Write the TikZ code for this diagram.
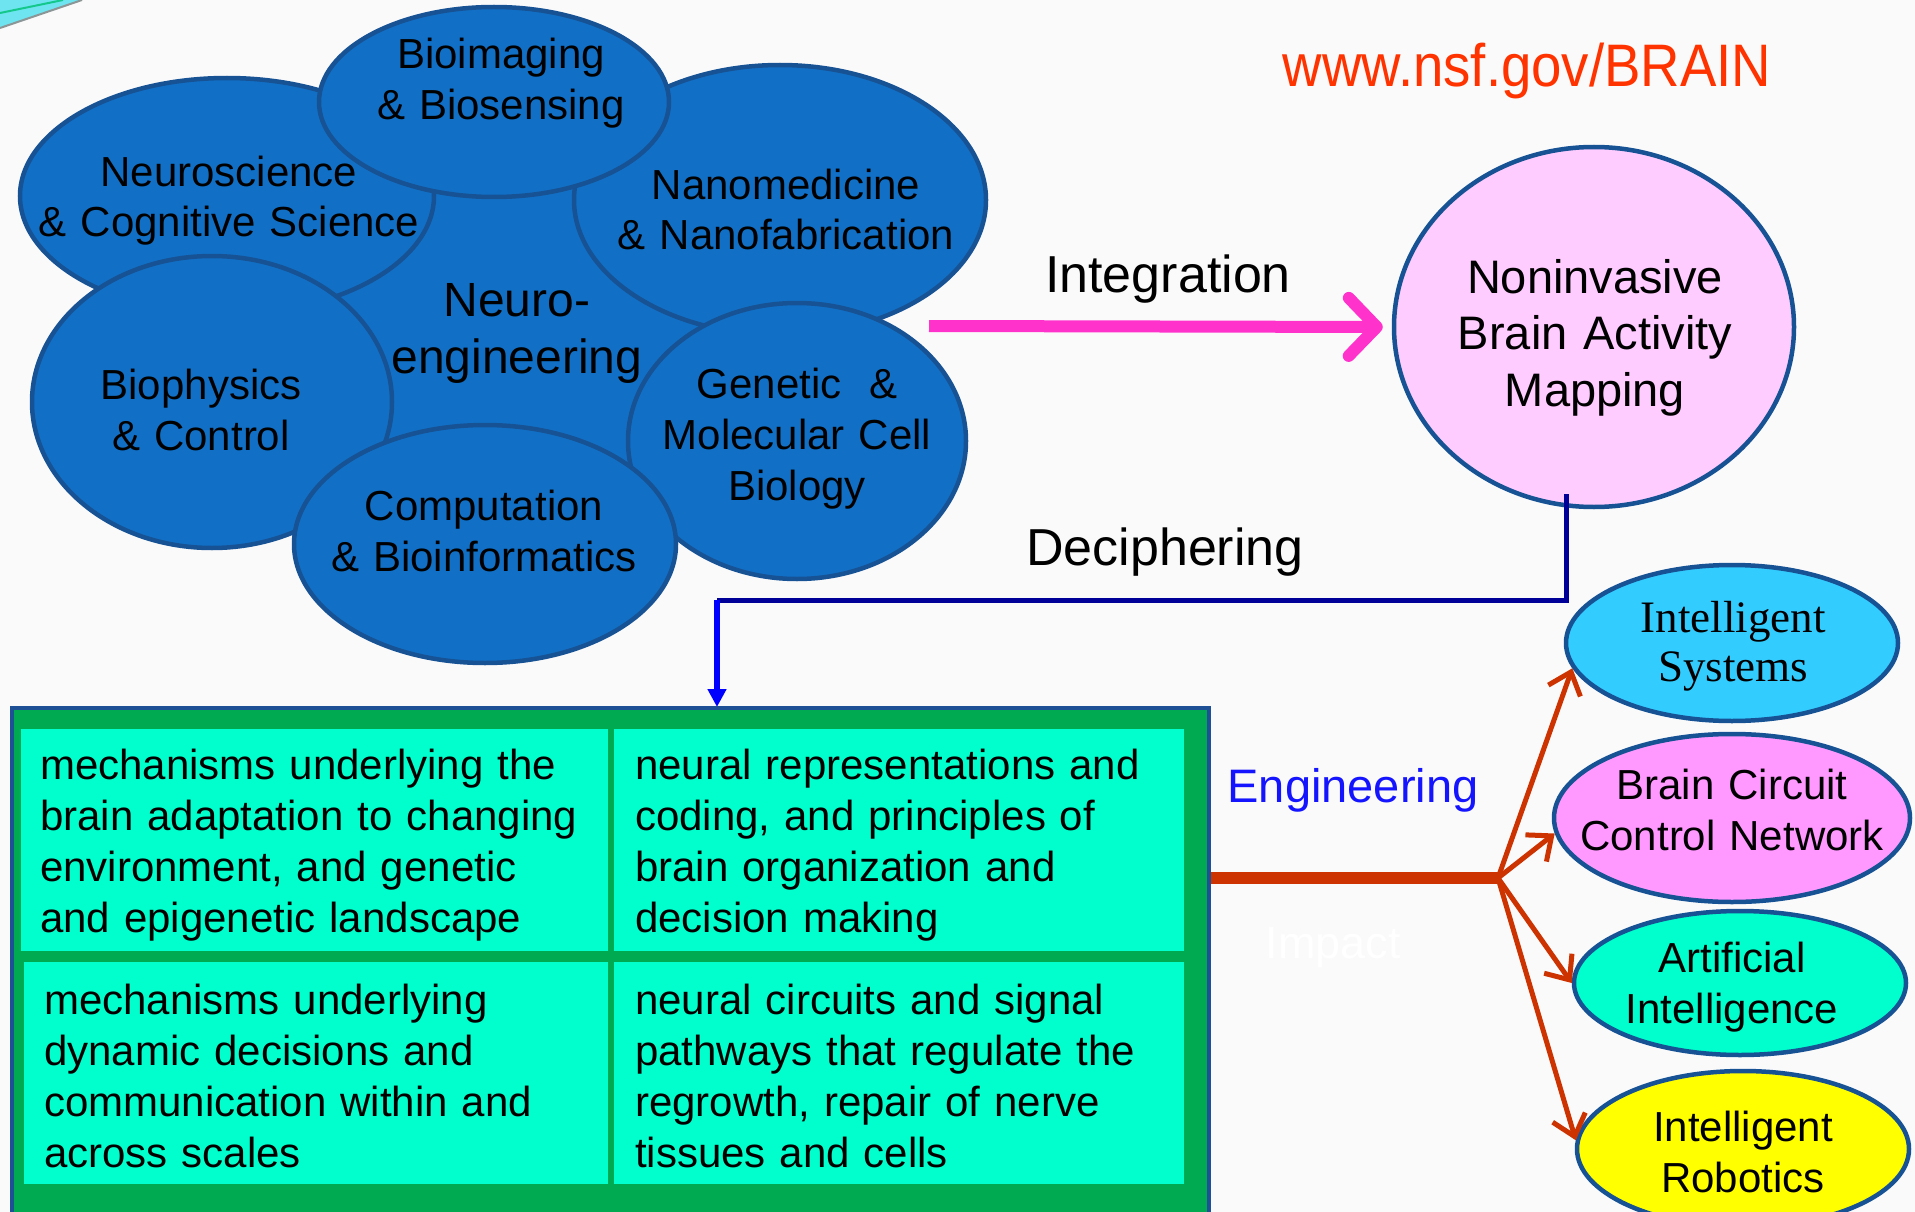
\documentclass[tikz,border=0pt]{standalone}
\usepackage{fontspec}
\setmainfont{Liberation Sans}
\newfontfamily\serifx{Liberation Serif}
\usetikzlibrary{shapes.geometric,arrows.meta}
\definecolor{bgc}{RGB}{250,250,250}
\definecolor{bubfill}{RGB}{17,112,198}
\definecolor{edgeblue}{RGB}{22,82,148}
\definecolor{lpink}{RGB}{255,204,255}
\definecolor{skyc}{RGB}{51,204,255}
\definecolor{pinkc}{RGB}{255,153,255}
\definecolor{aquac}{RGB}{0,255,204}
\definecolor{yellc}{RGB}{255,255,0}
\definecolor{gfill}{RGB}{0,170,80}
\definecolor{boxedge}{RGB}{30,80,150}
\definecolor{cellfill}{RGB}{0,255,204}
\definecolor{magc}{RGB}{255,51,204}
\definecolor{navyc}{RGB}{0,0,153}
\definecolor{bluec}{RGB}{0,0,255}
\definecolor{redc}{RGB}{204,51,0}
\definecolor{webc}{RGB}{255,51,0}
\definecolor{engc}{RGB}{20,20,255}
\definecolor{decocyan}{RGB}{110,228,240}
\definecolor{decogreen}{RGB}{20,200,140}
\definecolor{decogray}{RGB}{140,150,150}
\begin{document}
\begin{tikzpicture}[x=1pt,y=-1pt,
  bub/.style={ellipse, draw=edgeblue, line width=4.5pt, fill=bubfill, inner sep=0pt},
  oval/.style={ellipse, draw=edgeblue, line width=4.5pt, inner sep=0pt},
  btxt/.style={anchor=base, align=center, text width=460pt, inner sep=0pt, font=\fontsize{42}{51}\selectfont},
  ctxt/.style={anchor=base west, align=left, text width=580pt, inner sep=0pt, font=\fontsize{42}{51}\selectfont},
  cell/.style={rectangle, fill=cellfill, anchor=north west, inner sep=0pt},
  lbl/.style={anchor=base, inner sep=0pt},
  redarrow/.style={draw=redc, line width=5pt, -{Straight Barb[length=20pt,width=34pt]}},
]
\useasboundingbox (0,0) rectangle (1915,1212);
\clip (0,0) rectangle (1915,1212);
\fill[bgc] (0,0) rectangle (1915,1212);
% corner decoration
\fill[decocyan] (0,0) -- (82,0) -- (0,28) -- cycle;
\draw[decogreen, line width=2pt] (0,13) -- (63,0);
\draw[decogray, line width=2pt] (0,28) -- (82,0);

% bubble cluster
\node[ellipse, fill=bubfill, inner sep=0pt, minimum width=400pt, minimum height=320pt] (core) at (515,330) {};
\node[bub, minimum width=414pt, minimum height=236pt] (neusci) at (227,196) {};
\node[bub, minimum width=412pt, minimum height=270pt] (nano) at (780,200) {};
\node[bub, minimum width=350pt, minimum height=190pt] (bioim) at (494,102) {};
\node[bub, minimum width=360pt, minimum height=292pt] (biophys) at (212,402) {};
\node[bub, minimum width=338pt, minimum height=276pt] (genet) at (797,441) {};
\node[bub, minimum width=382pt, minimum height=238pt] (comput) at (485,544) {};

\node[btxt] (tneusci) at (229,186) {Neuroscience\\\& Cognitive Science};
\node[btxt] (tbioim) at (501,69) {Bioimaging\\\& Biosensing};
\node[btxt] (tnano) at (786,199) {Nanomedicine\\\& Nanofabrication};
\node[btxt, font=\fontsize{48}{57}\selectfont] (tcore) at (517,316) {Neuro-\\engineering};
\node[btxt] (tbiophys) at (201,399) {Biophysics\\\& Control};
\node[btxt] (tgenet) at (797,398) {Genetic\ \ \&\\Molecular Cell\\Biology};
\node[btxt] (tcomput) at (484,520) {Computation\\\& Bioinformatics};

% web address
\node[lbl, text=webc, font=\fontsize{60}{72}\selectfont] (web) at (1527,87) {\scalebox{0.91}[1]{www.nsf.gov/BRAIN}};

% noninvasive
\node[oval, fill=lpink, minimum width=400pt, minimum height=360pt] (nbam) at (1594,327) {};
\node[btxt, font=\fontsize{47}{56.5}\selectfont] (tnbam) at (1595,293) {Noninvasive\\Brain Activity\\Mapping};

% integration arrow
\coordinate (intS) at (929,326);
\draw[draw=magc, line width=12pt, shorten >=9pt, -{Straight Barb[length=28pt,width=58pt,round]}] (intS) -- (nbam.west);
\node[lbl, font=\fontsize{52}{62}\selectfont] (tint) at (1168,292) {Integration};

% deciphering connector
\coordinate (d0) at (1566,494);
\coordinate (d1) at (1566,600);
\coordinate (d2) at (717,600);
\draw[navyc, line width=5pt] (d0) -- (d1) -- (d2);
\draw[bluec, line width=5.5pt, -{Triangle[length=18pt,width=18pt]}] (d2) -- (d2 |- 0,707);
\node[lbl, font=\fontsize{52}{62}\selectfont] (tdec) at (1165,565) {Deciphering};

% green box
\node[rectangle, fill=gfill, draw=boxedge, line width=4pt, anchor=north west, inner sep=0pt, minimum width=1197pt, minimum height=540pt] (gbox) at (10,706) {};
\node[cell, minimum width=587pt, minimum height=222pt] (c1) at (21,729) {};
\node[cell, minimum width=570pt, minimum height=222pt] (c2) at (614,729) {};
\node[cell, minimum width=584pt, minimum height=222pt] (c3) at (24,962) {};
\node[cell, minimum width=570pt, minimum height=222pt] (c4) at (614,962) {};
\node[ctxt] (t1) at (40,779) {mechanisms underlying the\\brain adaptation to changing\\environment, and genetic\\and epigenetic landscape};
\node[ctxt] (t2) at (635,779) {neural representations and\\coding, and principles of\\brain organization and\\decision making};
\node[ctxt] (t3) at (44,1014) {mechanisms underlying\\dynamic decisions and\\communication within and\\across scales};
\node[ctxt] (t4) at (635,1014) {neural circuits and signal\\pathways that regulate the\\regrowth, repair of nerve\\tissues and cells};

% engineering
\node[lbl, text=engc, font=\fontsize{47}{56}\selectfont] (teng) at (1353,802) {Engineering};
\node[lbl, text=white, font=\fontsize{45}{54}\selectfont] (timp) at (1333,958) {Impact};

% outcome ellipses
\node[oval, fill=skyc, minimum width=332pt, minimum height=156pt] (isys) at (1732,643) {};
\node[oval, fill=pinkc, minimum width=356pt, minimum height=168pt] (bcn) at (1732,818) {};
\node[oval, fill=aquac, minimum width=332pt, minimum height=144pt] (ai) at (1740,983) {};
\node[oval, fill=yellc, minimum width=332pt, minimum height=156pt] (ir) at (1743,1149) {};
\node[btxt, font=\fontsize{45}{49}\serifx\selectfont] (tisys) at (1733,632) {Intelligent\\Systems};
\node[btxt] (tbcn) at (1732,799) {Brain Circuit\\Control Network};
\node[btxt] (tai) at (1732,972) {Artificial\\Intelligence};
\node[btxt] (tir) at (1743,1141) {Intelligent\\Robotics};

% red connectors
\coordinate (j) at (1498,878);
\draw[redc, line width=12pt] (gbox.east |- j) -- (j);
\draw[redarrow] (j) -- (isys.189);
\draw[redarrow] (j) -- (bcn.185);
\draw[redarrow] (j) -- (ai.180);
\draw[redarrow] (j) -- (ir.177);
\end{tikzpicture}
\end{document}
